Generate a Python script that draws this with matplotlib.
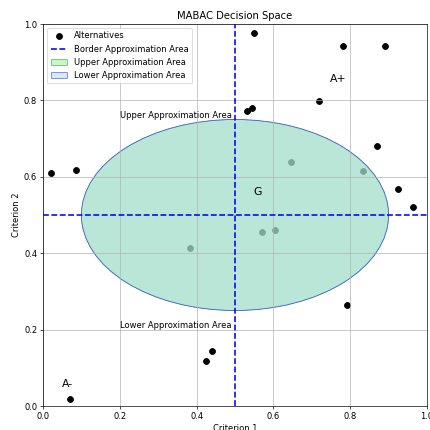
import numpy as np
import matplotlib
matplotlib.use("Agg")
import matplotlib.pyplot as plt
from matplotlib.patches import Ellipse

# alternatives in the decision space (criterion 1, criterion 2)
crit1 = [0.55, 0.78, 0.89, 0.72, 0.53, 0.545, 0.87, 0.02, 0.085, 0.647,
         0.833, 0.924, 0.964, 0.384, 0.57, 0.604, 0.792, 0.439, 0.424, 0.07]
crit2 = [0.976, 0.942, 0.942, 0.798, 0.772, 0.78, 0.681, 0.61, 0.618, 0.638,
         0.615, 0.568, 0.521, 0.414, 0.455, 0.461, 0.264, 0.144, 0.118, 0.018]

border = 0.5
area_center = (0.5, 0.5)
area_width = 0.8
area_height = 0.5

fig = plt.figure(figsize=(430 / 60, 430 / 60), dpi=60)
ax = fig.add_axes([43 / 430, 24 / 430, 384 / 430, 382 / 430])

ax.scatter(crit1, crit2, color="black", s=50, label="Alternatives")
ax.axhline(border, color="blue", linestyle="--", linewidth=1.9,
           label="Border Approximation Area", zorder=3)
ax.axvline(border, color="blue", linestyle="--", linewidth=1.9, zorder=3)

upper = Ellipse(area_center, area_width, area_height, facecolor="lightgreen",
                edgecolor="green", alpha=0.5, label="Upper Approximation Area")
lower = Ellipse(area_center, area_width, area_height, facecolor="lightblue",
                edgecolor="blue", alpha=0.5, label="Lower Approximation Area")
ax.add_patch(upper)
ax.add_patch(lower)

ax.text(0.2, 0.75, "Upper Approximation Area", va="bottom")
ax.text(0.2, 0.2, "Lower Approximation Area", va="bottom")
ax.text(0.56, 0.56, "G", fontsize=13, ha="center", va="center")
ax.text(0.77, 0.855, "A+", fontsize=13, ha="center", va="center")
ax.text(0.063, 0.058, "A-", fontsize=13, ha="center", va="center")

ax.set_xlim(0, 1)
ax.set_ylim(0, 1)
ax.set_title("MABAC Decision Space")
ax.set_xlabel("Criterion 1")
ax.set_ylabel("Criterion 2")
ax.grid(True)
ax.legend(loc="upper left")

fig.savefig("out.png", dpi=60)
